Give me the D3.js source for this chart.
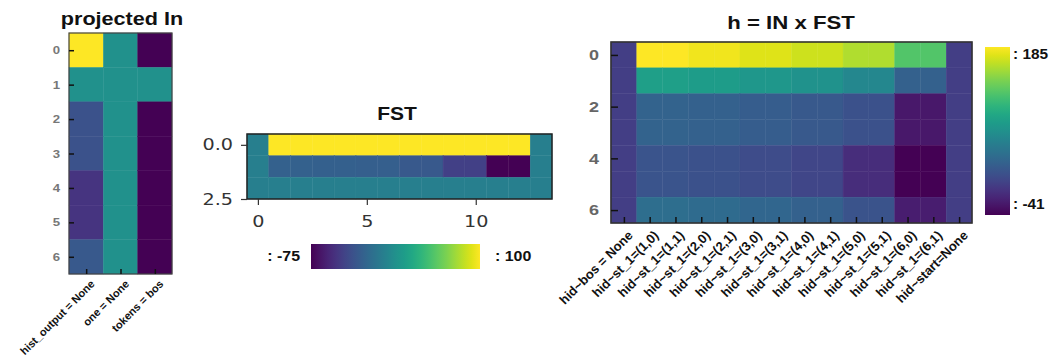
<!DOCTYPE html>
<html>
<head>
<meta charset="utf-8">
<script src="https://cdn.jsdelivr.net/npm/d3@7"></script>
<style>
  body { margin: 0; background: #fff; }
  svg { display: block; }
</style>
</head>
<body>
<svg id="chart" width="1052" height="360"></svg>
<script>
// ---- data ---------------------------------------------------------------
const projFeatures = ["hist_output = None", "one = None", "tokens = bos"];
const projRowTicks = [0, 1, 2, 3, 4, 5, 6];
const projValues = [
  [2.0, 1, 0],
  [1.0, 1, 1],
  [0.5, 1, 0],
  [0.5, 1, 0],
  [0.3, 1, 0],
  [0.3, 1, 0],
  [0.55, 1, 0]
];

const fstXTicks = [0, 5, 10];
const fstYTicks = [0.0, 2.5];
const fstRange = [-75, 100];
const fstValues = [
  [0, 100, 100, 100, 100, 100, 100, 100, 100, 100, 100, 100, 100, 0],
  [0, -21, -21, -22, -22, -23, -23, -27, -27, -42, -42, -75, -75, 0],
  [0, 0, 0, 0, 0, 0, 0, 0, 0, 0, 0, 0, 0, 0]
];

const hFeatures = [
  "hid~bos = None",
  "hid~st_1=(1,0)", "hid~st_1=(1,1)", "hid~st_1=(2,0)", "hid~st_1=(2,1)",
  "hid~st_1=(3,0)", "hid~st_1=(3,1)", "hid~st_1=(4,0)", "hid~st_1=(4,1)",
  "hid~st_1=(5,0)", "hid~st_1=(5,1)", "hid~st_1=(6,0)", "hid~st_1=(6,1)",
  "hid~start=None"
];
const hYTicks = [0, 2, 4, 6];
const hRange = [-41, 185];
const hValues = [
  [0, 185, 185, 180, 180, 174, 174, 168, 168, 158, 158, 124, 124, 0],
  [0, 86, 86, 83, 83, 79, 79, 74, 74, 64, 64, 28, 28, 0],
  [0, 30, 30, 28, 28, 25, 25, 21, 21, 15, 15, -26, -26, 0],
  [0, 30, 30, 28, 28, 25, 25, 21, 21, 15, 15, -26, -26, 0],
  [0, 18, 18, 15, 15, 11, 11, 6, 6, -12, -12, -41, -41, 0],
  [0, 18, 18, 15, 15, 11, 11, 6, 6, -12, -12, -41, -41, 0],
  [0, 40, 40, 37, 37, 33, 33, 28, 28, 17, 17, -23, -23, 0]
];

// ---- helpers ------------------------------------------------------------
const svg = d3.select("#chart");
const SX = 1.2; // glyphs are drawn slightly wide
const SANS = "'Liberation Sans', Arial, sans-serif";
const DEJAVU = "'DejaVu Sans', sans-serif";

function stretch(sel, sx = SX) {
  sel.each(function () {
    const t = d3.select(this);
    const x = +t.attr("x") || 0, y = +t.attr("y") || 0;
    t.attr("x", 0).attr("y", 0)
     .attr("transform", `translate(${x},${y}) scale(${sx},1)`);
  });
}

function label(x, y, str, size, anchor = "start", sx = SX) {
  return svg.append("text")
    .attr("transform", `translate(${x},${y}) scale(${sx},1)`)
    .attr("text-anchor", anchor)
    .attr("font-family", SANS).attr("font-weight", "bold")
    .attr("font-size", size).attr("fill", "#111")
    .text(str);
}

function cells(g, values, x, y, color) {
  values.forEach((row, r) => {
    g.selectAll(null).data(row).join("rect")
      .attr("x", (d, c) => x(c - 0.5))
      .attr("y", y(r - 0.5))
      .attr("width", (d, c) => x(c + 0.5) - x(c - 0.5))
      .attr("height", y(r + 0.5) - y(r - 0.5))
      .attr("fill", d => color(d))
      .attr("stroke", d => color(d))
      .attr("stroke-width", 0.4);
  });
}

function frame(g, x, y, stroke, width) {
  const [x0, x1] = x.range(), [y0, y1] = y.range();
  g.append("rect")
    .attr("x", x0).attr("y", y0)
    .attr("width", x1 - x0).attr("height", y1 - y0)
    .attr("fill", "none").attr("stroke", stroke).attr("stroke-width", width);
}

function viridisGradient(id, vertical) {
  const grad = svg.append("defs").append("linearGradient").attr("id", id)
    .attr("x1", 0).attr("y1", vertical ? 1 : 0)
    .attr("x2", vertical ? 0 : 1).attr("y2", 0);
  d3.range(0, 1.0001, 0.05).forEach(t => {
    grad.append("stop").attr("offset", t).attr("stop-color", d3.interpolateViridis(t));
  });
}

function rotatedLabels(axisG, size, dx, dy) {
  axisG.selectAll("text")
    .attr("x", 0).attr("y", 0).attr("dy", "0.35em")
    .attr("text-anchor", "end")
    .attr("transform", `translate(${dx},${dy}) rotate(-45)`)
    .attr("font-family", SANS).attr("font-weight", "bold")
    .attr("font-size", size).attr("fill", "#111");
}

// ---- panel 1: projected In ----------------------------------------------
{
  const g = svg.append("g");
  const x = d3.scaleLinear().domain([-0.5, projFeatures.length - 0.5]).range([69, 172]);
  const y = d3.scaleLinear().domain([-0.5, projValues.length - 0.5]).range([33, 274]);
  const color = d3.scaleSequential(d3.interpolateViridis).domain(d3.extent(projValues.flat()));
  cells(g, projValues, x, y, color);
  frame(g, x, y, "#444", 1.2);

  const ay = g.append("g").attr("transform", `translate(${x.range()[0]},0)`)
    .call(d3.axisLeft(y).tickValues(projRowTicks).tickFormat(d3.format("d"))
      .tickSizeInner(-5).tickSizeOuter(0).tickPadding(9));
  const ax = g.append("g").attr("transform", `translate(0,${y.range()[1]})`)
    .call(d3.axisBottom(x).tickValues(d3.range(projFeatures.length))
      .tickFormat(i => projFeatures[i]).tickSizeInner(-5).tickSizeOuter(0));
  [ay, ax].forEach(a => {
    a.select(".domain").remove();
    a.selectAll(".tick line").attr("stroke", "#111").attr("stroke-width", 1.5);
  });
  ay.selectAll("text").attr("font-family", SANS).attr("font-weight", "bold")
    .attr("font-size", 11).attr("fill", "#777").call(stretch);
  rotatedLabels(ax, 11, 6, 8);

  label(122, 25, "projected In", 18, "middle");
}

// ---- panel 2: FST -------------------------------------------------------
{
  const g = svg.append("g");
  const x = d3.scaleLinear().domain([-0.5, fstValues[0].length - 0.5]).range([247, 552]);
  const y = d3.scaleLinear().domain([-0.5, fstValues.length - 0.5]).range([134, 199]);
  const color = d3.scaleSequential(d3.interpolateViridis).domain(fstRange);
  cells(g, fstValues, x, y, color);
  frame(g, x, y, "#222", 1.5);

  const ay = g.append("g").attr("transform", `translate(${x.range()[0]},0)`)
    .call(d3.axisLeft(y).tickValues(fstYTicks).tickFormat(d3.format(".1f"))
      .tickSize(6).tickPadding(8));
  const ax = g.append("g").attr("transform", `translate(0,${y.range()[1]})`)
    .call(d3.axisBottom(x).tickValues(fstXTicks).tickFormat(d3.format("d"))
      .tickSize(6).tickPadding(11));
  [ay, ax].forEach(a => {
    a.select(".domain").remove();
    a.selectAll(".tick line").attr("stroke", "#333").attr("stroke-width", 1.2);
    a.selectAll("text").attr("font-family", DEJAVU).attr("font-size", 16).attr("fill", "#333")
      .call(stretch);
  });

  label(397, 120, "FST", 17.5, "middle");

  // horizontal colour bar
  viridisGradient("fstBar", false);
  svg.append("rect").attr("x", 311).attr("y", 244).attr("width", 169).attr("height", 25)
    .attr("fill", "url(#fstBar)");
  label(300, 261, ": " + fstRange[0], 14.5, "end", 1.1);
  label(495, 261, ": " + fstRange[1], 14.5, "start", 1.1);
}

// ---- panel 3: h = IN x FST ----------------------------------------------
{
  const g = svg.append("g");
  const x = d3.scaleLinear().domain([-0.5, hFeatures.length - 0.5]).range([611, 972]);
  const y = d3.scaleLinear().domain([-0.5, hValues.length - 0.5]).range([42, 223]);
  const color = d3.scaleSequential(d3.interpolateViridis).domain(hRange);
  cells(g, hValues, x, y, color);
  frame(g, x, y, "#333", 1.6);

  const ay = g.append("g").attr("transform", `translate(${x.range()[0]},0)`)
    .call(d3.axisLeft(y).tickValues(hYTicks).tickFormat(d3.format("d"))
      .tickSizeInner(-7).tickSizeOuter(0).tickPadding(12));
  const ax = g.append("g").attr("transform", `translate(0,${y.range()[1]})`)
    .call(d3.axisBottom(x).tickValues(d3.range(hFeatures.length))
      .tickFormat(i => hFeatures[i]).tickSizeInner(-6).tickSizeOuter(0));
  [ay, ax].forEach(a => {
    a.select(".domain").remove();
    a.selectAll(".tick line").attr("stroke", "#111").attr("stroke-width", 1.5);
  });
  ay.selectAll("text").attr("font-family", SANS).attr("font-weight", "bold")
    .attr("font-size", 15).attr("fill", "#666").call(stretch);
  rotatedLabels(ax, 13, 6, 10);

  label(791, 29, "h = IN x FST", 18.5, "middle");

  // vertical colour bar
  viridisGradient("hBar", true);
  svg.append("rect").attr("x", 985).attr("y", 47).attr("width", 25).attr("height", 168)
    .attr("fill", "url(#hBar)");
  label(1013, 59, ": " + hRange[1], 14, "start", 1.1);
  label(1013, 209, ": " + hRange[0], 14, "start", 1.1);
}
</script>
</body>
</html>
